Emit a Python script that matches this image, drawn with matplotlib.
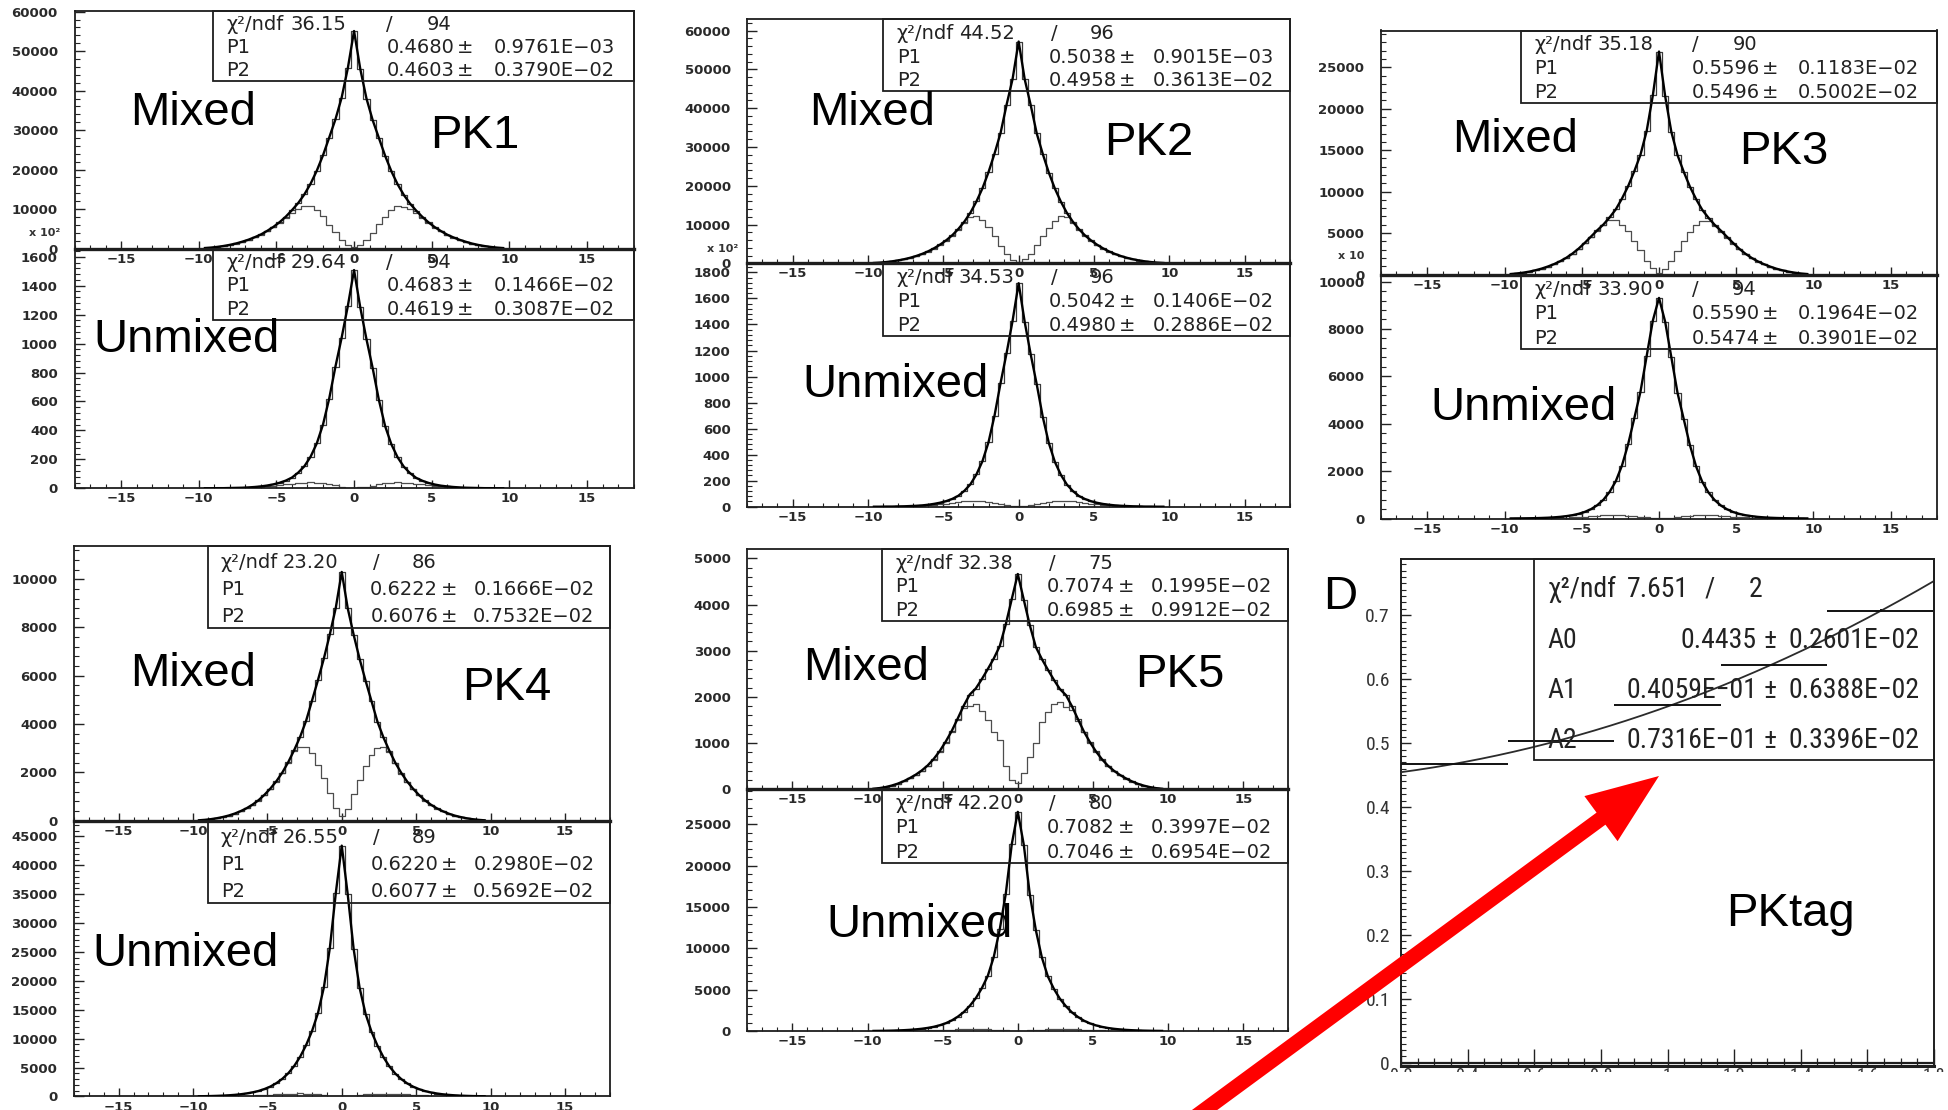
import numpy as np
import matplotlib
matplotlib.use("Agg")
import matplotlib.pyplot as plt
from matplotlib import font_manager
from matplotlib.font_manager import FontProperties
from matplotlib.patches import Rectangle, FancyArrow
from matplotlib.ticker import MultipleLocator, AutoMinorLocator, FuncFormatter

# ------------------------------------------------------------------
# Delta-t histograms (bin width 0.4, centres from -9.6 to +9.6)
# "all" = every tagged event, "part" = mixed / unmixed component
# ------------------------------------------------------------------
BIN_WIDTH = 0.4
dt = np.arange(-24, 25) * BIN_WIDTH

pk1_mixed_all = [120, 240, 410, 640, 920, 1270, 1720, 2230, 2850, 3550, 4450, 5450, 6650, 8050, 9700, 11500, 13700, 16400, 19700, 23600, 28100, 32700, 38200, 45700,
                 55100,
                 45500, 38000, 32500, 28000, 23500, 19600, 16300, 13600, 11400, 9600, 8000, 6600, 5400, 4400, 3500, 2800, 2200, 1700, 1250, 900, 620, 400, 230, 110]
pk1_mixed_part = [115, 232, 400, 625, 900, 1245, 1690, 2190, 2800, 3490, 4380, 5360, 6540, 7800, 8950, 9950, 10650, 10800, 9800, 8200, 6000, 4100, 2100, 850,
                  300,
                  900, 2200, 4000, 6100, 8100, 9700, 10700, 10600, 9900, 8900, 7700, 6450, 5300, 4320, 3440, 2750, 2160, 1670, 1230, 885, 610, 395, 225, 108]
pk1_unmixed_all = [0, 0, 1, 1, 2, 3, 4, 6, 9, 13, 19, 27, 38, 53, 74, 108, 152, 218, 310, 440, 620, 840, 1040, 1260,
                   1508,
                   1250, 1030, 830, 610, 430, 305, 215, 150, 105, 72, 52, 37, 26, 18, 13, 9, 6, 4, 3, 2, 1, 1, 0, 0]
pk1_unmixed_part = [0, 0, 1, 1, 2, 3, 4, 5, 7, 10, 13, 17, 22, 28, 33, 37, 40, 42, 40, 35, 28, 20, 12, 5,
                    2,
                    6, 12, 19, 27, 34, 39, 41, 40, 37, 32, 27, 22, 17, 13, 10, 7, 5, 4, 3, 2, 1, 1, 0, 0]

pk2_mixed_all = [85, 175, 320, 500, 745, 1050, 1420, 1880, 2430, 3090, 3900, 4850, 5950, 7250, 8850, 10750, 13050, 15950, 19350, 23500, 28300, 33600, 40900, 47600,
                 57200,
                 47500, 40800, 33500, 28200, 23400, 19300, 15900, 13000, 10700, 8800, 7200, 5900, 4800, 3850, 3050, 2400, 1850, 1400, 1030, 730, 490, 310, 170, 80]
pk2_mixed_part = [82, 170, 312, 490, 730, 1030, 1390, 1840, 2370, 3020, 3810, 4730, 5800, 7080, 8600, 10500, 12000, 12200, 11100, 9300, 7100, 4500, 2400, 950,
                  250,
                  1000, 2500, 4600, 7000, 9200, 11000, 12100, 12000, 10400, 8500, 7000, 5750, 4680, 3760, 2980, 2340, 1800, 1370, 1000, 710, 480, 300, 165, 78]
pk2_unmixed_all = [0, 0, 1, 1, 2, 3, 5, 7, 10, 15, 22, 31, 43, 60, 84, 122, 172, 248, 350, 495, 700, 950, 1180, 1430,
                   1717,
                   1420, 1170, 940, 690, 490, 345, 245, 170, 120, 82, 59, 42, 30, 21, 15, 10, 7, 5, 3, 2, 1, 1, 0, 0]
pk2_unmixed_part = [0, 0, 1, 1, 2, 3, 5, 6, 8, 11, 15, 19, 24, 30, 36, 41, 44, 46, 43, 37, 30, 22, 13, 6,
                    2,
                    7, 13, 21, 30, 37, 43, 45, 44, 41, 35, 30, 24, 19, 14, 11, 8, 6, 4, 3, 2, 1, 1, 0, 0]

pk3_mixed_all = [58, 125, 220, 345, 510, 710, 960, 1250, 1600, 2020, 2530, 3130, 3830, 4580, 5330, 6030, 6880, 7850, 9150, 10650, 12450, 14450, 17300, 21600,
                 26900,
                 21500, 17200, 14400, 12400, 10600, 9100, 7800, 6850, 6000, 5300, 4550, 3800, 3100, 2500, 2000, 1580, 1240, 950, 700, 500, 340, 215, 120, 55]
pk3_mixed_part = [57, 122, 215, 338, 500, 696, 940, 1225, 1570, 1980, 2480, 3070, 3750, 4480, 5200, 5950, 6550, 6600, 6000, 5200, 4100, 2900, 1650, 750,
                  200,
                  700, 1600, 2800, 4000, 5100, 6000, 6500, 6450, 5900, 5150, 4450, 3720, 3040, 2450, 1960, 1550, 1215, 930, 686, 490, 333, 210, 117, 54]
pk3_unmixed_all = [2, 4, 6, 10, 15, 23, 33, 48, 70, 100, 140, 198, 280, 395, 560, 790, 1120, 1570, 2230, 3130, 4230, 5350, 6850, 8350,
                   9310,
                   8300, 6800, 5300, 4200, 3100, 2200, 1550, 1100, 780, 550, 390, 275, 195, 138, 98, 68, 47, 32, 22, 15, 10, 6, 4, 2]
pk3_unmixed_part = [0, 1, 3, 4, 7, 10, 13, 18, 26, 35, 47, 60, 79, 97, 115, 132, 143, 148, 139, 122, 98, 68, 43, 21,
                    7,
                    22, 42, 67, 96, 120, 138, 145, 142, 130, 113, 96, 78, 60, 46, 35, 25, 17, 13, 10, 7, 4, 3, 1, 0]

pk4_mixed_all = [17, 36, 64, 102, 152, 214, 294, 395, 515, 665, 845, 1070, 1330, 1630, 1990, 2420, 2920, 3470, 4130, 4970, 5820, 6720, 7720, 8820,
                 10300,
                 8800, 7700, 6700, 5800, 4950, 4100, 3450, 2900, 2400, 1980, 1620, 1320, 1060, 840, 660, 510, 390, 290, 210, 150, 100, 62, 35, 16]
pk4_mixed_part = [17, 35, 63, 100, 150, 210, 290, 390, 508, 655, 833, 1055, 1310, 1610, 1960, 2390, 2880, 3050, 3060, 2800, 2300, 1750, 1150, 520,
                  180,
                  500, 1100, 1700, 2250, 2700, 3000, 3050, 2850, 2370, 1950, 1600, 1300, 1045, 828, 650, 503, 385, 286, 207, 148, 99, 61, 35, 16]
pk4_unmixed_all = [23, 40, 62, 93, 134, 190, 265, 370, 510, 695, 935, 1270, 1700, 2280, 3030, 3990, 5250, 6850, 8850, 11300, 14400, 18900, 25700, 35200,
                   43400,
                   35000, 25500, 18800, 14300, 11200, 8800, 6800, 5200, 3950, 3000, 2250, 1680, 1250, 920, 680, 500, 360, 260, 185, 130, 90, 60, 38, 22]
pk4_unmixed_part = [2, 5, 10, 15, 23, 33, 45, 62, 88, 122, 163, 213, 272, 333, 393, 452, 492, 505, 475, 415, 335, 235, 145, 72,
                    25,
                    70, 140, 230, 330, 410, 470, 500, 490, 450, 390, 330, 270, 210, 160, 120, 85, 60, 45, 33, 22, 15, 10, 5, 2]

pk5_mixed_all = [12, 26, 48, 80, 121, 174, 240, 315, 405, 515, 655, 825, 1030, 1260, 1530, 1810, 2050, 2180, 2380, 2600, 2830, 3100, 3570, 4120,
                 4660,
                 4100, 3550, 3080, 2820, 2590, 2370, 2170, 2040, 1800, 1520, 1250, 1020, 820, 650, 510, 400, 310, 235, 170, 118, 78, 47, 25, 11]
pk5_mixed_part = [11, 25, 47, 78, 118, 170, 235, 308, 398, 505, 642, 810, 1010, 1240, 1490, 1760, 1800, 1850, 1700, 1500, 1250, 1060, 500, 200,
                  130,
                  350, 700, 1000, 1450, 1680, 1850, 1880, 1790, 1720, 1480, 1230, 1000, 805, 640, 502, 394, 305, 231, 167, 116, 77, 46, 24, 11]
pk5_unmixed_all = [10, 18, 29, 45, 67, 97, 138, 194, 270, 372, 505, 690, 935, 1270, 1720, 2280, 3030, 3950, 5150, 6650, 8950, 12300, 16600, 22600,
                   26500,
                   22500, 16500, 12200, 8900, 6600, 5100, 3900, 3000, 2250, 1700, 1250, 920, 680, 500, 365, 265, 190, 135, 95, 65, 44, 28, 17, 10]
pk5_unmixed_part = [1, 3, 5, 8, 12, 17, 23, 31, 44, 61, 82, 107, 137, 167, 197, 227, 247, 252, 238, 207, 167, 117, 72, 36,
                    12,
                    35, 70, 115, 165, 205, 235, 250, 245, 225, 195, 165, 135, 105, 80, 60, 43, 30, 22, 16, 11, 7, 5, 2, 1]

# fit results: chi2, ndf, P1, err(P1), P2, err(P2)
pk1_mixed_fit = [36.15, 94, 0.4680, 0.9761e-3, 0.4603, 0.3790e-2]
pk1_unmixed_fit = [29.64, 94, 0.4683, 0.1466e-2, 0.4619, 0.3087e-2]
pk2_mixed_fit = [44.52, 96, 0.5038, 0.9015e-3, 0.4958, 0.3613e-2]
pk2_unmixed_fit = [34.53, 96, 0.5042, 0.1406e-2, 0.4980, 0.2886e-2]
pk3_mixed_fit = [35.18, 90, 0.5596, 0.1183e-2, 0.5496, 0.5002e-2]
pk3_unmixed_fit = [33.90, 94, 0.5590, 0.1964e-2, 0.5474, 0.3901e-2]
pk4_mixed_fit = [23.20, 86, 0.6222, 0.1666e-2, 0.6076, 0.7532e-2]
pk4_unmixed_fit = [26.55, 89, 0.6220, 0.2980e-2, 0.6077, 0.5692e-2]
pk5_mixed_fit = [32.38, 75, 0.7074, 0.1995e-2, 0.6985, 0.9912e-2]
pk5_unmixed_fit = [42.20, 80, 0.7082, 0.3997e-2, 0.7046, 0.6954e-2]

# PKtag: dilution per category and quadratic fit A0 + A1 x + A2 x^2
tag_categories = ["PK1", "PK2", "PK3", "PK4", "PK5"]
tag_bin_centres = [0.36, 0.68, 1.00, 1.32, 1.64]
tag_bin_half_width = 0.16
tag_dilution = [pk1_mixed_fit[2], pk2_mixed_fit[2], pk3_mixed_fit[2], pk4_mixed_fit[2], pk5_mixed_fit[2]]
tag_dilution_err = [pk1_mixed_fit[3], pk2_mixed_fit[3], pk3_mixed_fit[3], pk4_mixed_fit[3], pk5_mixed_fit[3]]
tag_fit_chi2, tag_fit_ndf = 7.651, 2
tag_fit_par = [0.4435, 0.4059e-1, 0.7316e-1]
tag_fit_err = [0.2601e-2, 0.6388e-2, 0.3396e-2]

# ------------------------------------------------------------------
W, H = 1948, 1110
plt.rcParams["font.family"] = ["DejaVu Sans"]
fig = plt.figure(figsize=(W / 100, H / 100), dpi=100)
fig.patch.set_facecolor("white")

_fonts = font_manager.fontManager.ttflist
_names = {f.name for f in _fonts}
ARIAL = "Liberation Sans" if "Liberation Sans" in _names else "DejaVu Sans"


def _find_condensed():
    """Pick a regular-weight condensed sans face if one is installed."""
    preferred = ["Liberation Sans Narrow", "Roboto Condensed", "Open Sans Condensed",
                 "Noto Sans Condensed", "DejaVu Sans Condensed", "Noto Sans", "Open Sans", "Roboto"]
    good = []
    for f in _fonts:
        n = f.name
        if "Mono" in n or "Serif" in n or "CJK" in n:
            continue
        if f.style != "normal":
            continue
        w = f.weight if isinstance(f.weight, int) else {"normal": 400, "regular": 400, "bold": 700}.get(str(f.weight), 400)
        cond = ("Narrow" in n or "Condensed" in n or "Condensed" in f.fname or "Narrow" in f.fname
                or str(f.stretch) in ("condensed", "semi-condensed", "extra-condensed", "ultra-condensed"))
        if not cond:
            continue
        cond_rank = 1 if ("Semi" in f.fname or "semi" in str(f.stretch)) else 0
        rank = preferred.index(n) if n in preferred else len(preferred)
        good.append((rank, cond_rank, abs(w - 400), f.fname))
    if not good:
        return None
    good.sort()
    return good[0][3]


_cond_path = _find_condensed()


def narrow_props(size, weight="normal"):
    if _cond_path:
        return FontProperties(fname=_cond_path, size=size, weight=weight)
    return FontProperties(family="DejaVu Sans", size=size * 0.72, weight=weight)


def px_axes(l, t, r, b, **kw):
    return fig.add_axes([l / W, 1 - b / H, (r - l) / W, (b - t) / H], **kw)


def fortran_e(v):
    e = int(np.floor(np.log10(abs(v)))) + 1
    m = v / 10.0 ** e
    return f"{m:.4f}E{'−' if e < 0 else '+'}{abs(e):02d}"


def style_hist_axes(ax, ymax, ystep, bottom_lw=1.3):
    ax.set_facecolor("none")
    ax.set_xlim(-18, 18)
    ax.set_ylim(0, ymax)
    ax.xaxis.set_major_locator(MultipleLocator(5))
    ax.xaxis.set_minor_locator(MultipleLocator(1))
    ax.yaxis.set_major_locator(MultipleLocator(ystep))
    ax.yaxis.set_minor_locator(AutoMinorLocator(5))
    ax.tick_params(axis="x", which="both", direction="in", top=False, bottom=True,
                   color="#222222", labelcolor="#2a2a2a", labelsize=9.5, pad=3)
    ax.tick_params(axis="x", which="major", length=6, width=1.0)
    ax.tick_params(axis="x", which="minor", length=3, width=0.8)
    ax.tick_params(axis="y", which="both", direction="in", left=True, right=False,
                   color="#222222", labelcolor="#2a2a2a", labelsize=9.5, pad=12)
    ax.tick_params(axis="y", which="major", length=7, width=1.0)
    ax.tick_params(axis="y", which="minor", length=3.5, width=0.8)
    for lab in ax.get_xticklabels() + ax.get_yticklabels():
        lab.set_fontweight("bold")
    for side, sp in ax.spines.items():
        sp.set_color("#1e1e1e")
        sp.set_linewidth(bottom_lw if side == "bottom" else 1.3)


def draw_hist(ax, total, part):
    ax.step(dt, part, where="mid", color="#4d4d4d", lw=0.9, zorder=2)
    ax.step(dt, total, where="mid", color="#3a3a3a", lw=0.9, zorder=3)
    ax.plot(dt, total, color="black", lw=1.7, zorder=4)


panels = [
    dict(l=74.5, r=633.6, t=11, d=248.5, b=488.3, ym=60170, yu=1657, sm=10000, su=200,
         box_l=212.7, box_mb=81, box_ub=320, exp=("x 10²", 45, 232.7),
         mixed=(192.8, 125), tag=("PK1", 474.7, 148), unmixed=(186.6, 352),
         data=(pk1_mixed_all, pk1_mixed_part, pk1_unmixed_all, pk1_unmixed_part),
         fits=(pk1_mixed_fit, pk1_unmixed_fit)),
    dict(l=747.3, r=1290, t=19.3, d=263.3, b=506.7, ym=62940, yu=1870, sm=10000, su=200,
         box_l=883.3, box_mb=91.5, box_ub=336, exp=("x 10²", 723, 249.3),
         mixed=(871.8, 125), tag=("PK2", 1149, 155), unmixed=(896, 397),
         data=(pk2_mixed_all, pk2_mixed_part, pk2_unmixed_all, pk2_unmixed_part),
         fits=(pk2_mixed_fit, pk2_unmixed_fit)),
    dict(l=1381, r=1937, t=30.5, d=274.5, b=518.5, ym=29440, yu=10298, sm=5000, su=2000,
         box_l=1520.5, box_mb=103.3, box_ub=349, exp=("x 10", 1351, 256),
         mixed=(1515, 151.5), tag=("PK3", 1783.5, 163.6), unmixed=(1523, 420),
         data=(pk3_mixed_all, pk3_mixed_part, pk3_unmixed_all, pk3_unmixed_part),
         fits=(pk3_mixed_fit, pk3_unmixed_fit)),
    dict(l=74, r=609.5, t=545.5, d=820.7, b=1096.4, ym=11395, yu=47717, sm=2000, su=5000,
         box_l=207.5, box_mb=628, box_ub=903, exp=None,
         mixed=(192.8, 685.5), tag=("PK4", 506.6, 700), unmixed=(185.7, 965.5),
         data=(pk4_mixed_all, pk4_mixed_part, pk4_unmixed_all, pk4_unmixed_part),
         fits=(pk4_mixed_fit, pk4_unmixed_fit)),
    dict(l=747.3, r=1288.3, t=549.3, d=789.3, b=1031, ym=5195, yu=29230, sm=1000, su=5000,
         box_l=881.7, box_mb=621, box_ub=862.7, exp=None,
         mixed=(865.8, 680), tag=("PK5", 1180, 686.7), unmixed=(919, 936.7),
         data=(pk5_mixed_all, pk5_mixed_part, pk5_unmixed_all, pk5_unmixed_part),
         fits=(pk5_mixed_fit, pk5_unmixed_fit)),
]

# column anchors inside a stat box, as fractions of its width
HIST_COLS = dict(label=0.033, chi=0.186, slash=0.42, ndf=0.538, val=0.574, pm=0.6,
                 err=0.812, err_ha="center")
TAG_COLS = dict(label=0.034, chi=0.232, slash=0.44, ndf=0.555, val=0.558, pm=0.59,
                err=0.965, err_ha="right")

stat_boxes = []
for p in panels:
    ax_m = px_axes(p["l"], p["t"], p["r"], p["d"])
    ax_u = px_axes(p["l"], p["d"], p["r"], p["b"])
    m_all, m_part, u_all, u_part = p["data"]
    draw_hist(ax_m, m_all, m_part)
    draw_hist(ax_u, u_all, u_part)
    style_hist_axes(ax_m, p["ym"], p["sm"], bottom_lw=2.4)
    style_hist_axes(ax_u, p["yu"], p["su"])
    fm, fu = p["fits"]
    for top, bottom, f in ((p["t"], p["box_mb"], fm), (p["d"], p["box_ub"], fu)):
        rows = [("χ²/ndf", f"{f[0]:.2f}", f"{f[1]:d}"),
                ("P1", f"{f[2]:.4f}", fortran_e(f[3])),
                ("P2", f"{f[4]:.4f}", fortran_e(f[5]))]
        stat_boxes.append(dict(l=p["box_l"], t=top, r=p["r"], b=bottom, rows=rows,
                               yfrac=(0.27, 0.6, 0.93), cols=HIST_COLS,
                               font=FontProperties(family="DejaVu Sans", size=14)))

# ---- PKtag: dilution versus category ----
axT = px_axes(1401, 559, 1934, 1066)
axT.set_facecolor("none")
axT.set_xlim(0.2, 1.8)
axT.set_ylim(-0.005, 0.788)
xf = np.linspace(0.2, 1.8, 200)
yf = tag_fit_par[0] + tag_fit_par[1] * xf + tag_fit_par[2] * xf ** 2
axT.plot(xf, yf, color="#2b2b2b", lw=1.3, zorder=3)
axT.errorbar(tag_bin_centres, tag_dilution, xerr=tag_bin_half_width, yerr=tag_dilution_err,
             fmt="none", ecolor="#111111", elinewidth=1.4, capsize=0, zorder=4)
axT.axhline(0, color="#1e1e1e", lw=1.6)
axT.xaxis.set_major_locator(MultipleLocator(0.2))
axT.xaxis.set_minor_locator(MultipleLocator(0.05))
axT.yaxis.set_major_locator(MultipleLocator(0.1))
axT.yaxis.set_minor_locator(MultipleLocator(0.01))
axT.xaxis.set_major_formatter(FuncFormatter(lambda v, _: f"{v:g}"))
axT.yaxis.set_major_formatter(FuncFormatter(lambda v, _: "0" if abs(v) < 1e-9 else f"{v:.1f}"))
axT.tick_params(axis="x", which="both", direction="in", top=False, color="#222222",
                labelcolor="#333333", pad=1)
axT.tick_params(axis="x", which="major", length=12, width=1.0)
axT.tick_params(axis="x", which="minor", length=5.5, width=0.9)
axT.tick_params(axis="y", which="both", direction="in", right=False, color="#222222",
                labelcolor="#333333", pad=8)
axT.tick_params(axis="y", which="major", length=7, width=1.0)
axT.tick_params(axis="y", which="minor", length=3.5, width=0.8)
for lab in axT.get_xticklabels():
    lab.set_fontproperties(narrow_props(13, "bold"))
for lab in axT.get_yticklabels():
    lab.set_fontproperties(narrow_props(14, "bold"))
for sp in axT.spines.values():
    sp.set_color("#1e1e1e")
    sp.set_linewidth(1.4)
axT.spines["bottom"].set_linewidth(2.2)

tag_rows = [("χ²/ndf", f"{tag_fit_chi2:.3f}", f"{tag_fit_ndf:d}")]
for i, (v, e) in enumerate(zip(tag_fit_par, tag_fit_err)):
    vs = f"{v:.4f}" if v >= 0.1 else fortran_e(v)
    tag_rows.append((f"A{i}", vs, fortran_e(e)))
stat_boxes.append(dict(l=1533.5, t=559, r=1934, b=760, rows=tag_rows,
                       yfrac=(0.187, 0.445, 0.69, 0.94), cols=TAG_COLS,
                       font=narrow_props(20)))

# ---- overlay in pixel coordinates: stat boxes, labels, arrow ----
ov = fig.add_axes([0, 0, 1, 1], zorder=10)
ov.set_xlim(0, W)
ov.set_ylim(H, 0)
ov.axis("off")
ov.patch.set_alpha(0)

for sb in stat_boxes:
    l, t, r, b = sb["l"], sb["t"], sb["r"], sb["b"]
    w, h = r - l, b - t
    c = sb["cols"]
    ov.add_patch(Rectangle((l, t), w, h, fill=False, ec="#1e1e1e", lw=1.3))
    kw = dict(fontproperties=sb["font"], color="#222222", va="baseline")
    for k, (row, yf_) in enumerate(zip(sb["rows"], sb["yfrac"])):
        y = t + yf_ * h
        ov.text(l + c["label"] * w, y, row[0], ha="left", **kw)
        if k == 0:
            ov.text(l + c["chi"] * w, y, row[1], ha="left", **kw)
            ov.text(l + c["slash"] * w, y, "/", ha="center", **kw)
            ov.text(l + c["ndf"] * w, y, row[2], ha="center", **kw)
        else:
            ov.text(l + c["val"] * w, y, row[1], ha="right", **kw)
            ov.text(l + c["pm"] * w, y, "±", ha="center", **kw)
            ov.text(l + c["err"] * w, y, row[2], ha=c["err_ha"], **kw)

big = dict(family=ARIAL, fontsize=34, color="black", va="baseline", ha="center")
for p in panels:
    ov.text(*p["mixed"], "Mixed", **big)
    ov.text(p["tag"][1], p["tag"][2], p["tag"][0], **big)
    ov.text(*p["unmixed"], "Unmixed", **big)
    if p["exp"]:
        s, x, y = p["exp"]
        ov.text(x, y, s, ha="center", va="center", fontsize=8, fontweight="bold", color="#333333")
ov.text(1340, 609, "D", **big)
ov.text(1790, 925.5, "PKtag", **big)

# hide the clipped lower part of the PKtag x labels
ov.add_patch(Rectangle((1390, 1072), W - 1390, H - 1072, fc="white", ec="none"))

# red arrow pointing at the fit
tip = (1659, 776)
tail = (1163.8, 1140)
ov.add_patch(FancyArrow(tail[0], tail[1], tip[0] - tail[0], tip[1] - tail[1], width=15,
                        head_width=56, head_length=72, length_includes_head=True,
                        fc="#ff0000", ec="none"))

fig.savefig("out.png", dpi=100, facecolor="white")
